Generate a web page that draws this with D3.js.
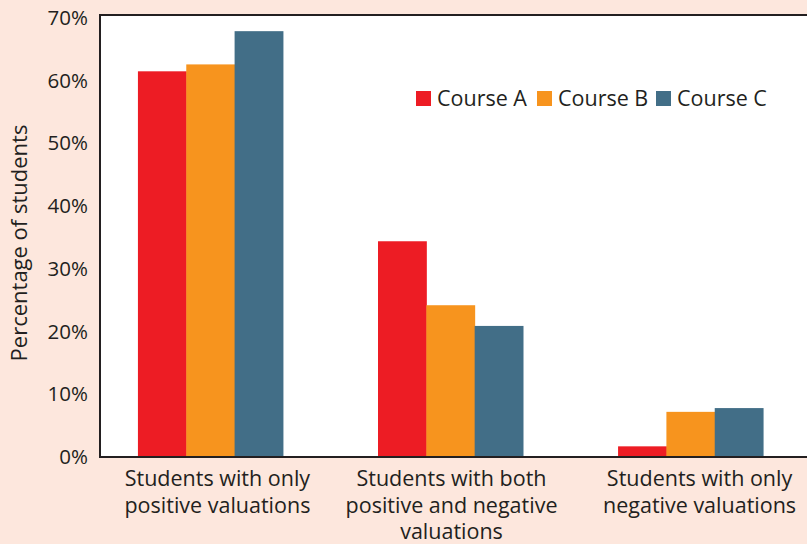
<!DOCTYPE html>
<html><head><meta charset="utf-8">
<script src="https://cdn.jsdelivr.net/npm/d3@7"></script>
<style>
html,body{margin:0;padding:0;background:#fde7dd;}
svg{display:block;font-family:"Open Sans",sans-serif;}
</style></head>
<body><svg id="c" width="807" height="544"></svg>
<script>
const categories = [
  ["Students with only","positive valuations"],
  ["Students with both","positive and negative","valuations"],
  ["Students with only","negative valuations"]
];
const seriesNames = ["Course A","Course B","Course C"];
const courseA = [61.5, 34.4, 1.7];
const courseB = [62.6, 24.2, 7.2];
const courseC = [67.9, 20.9, 7.8];
const yTicks = [0,10,20,30,40,50,60,70];
const colors = ["#ed1c24","#f7941e","#426e87"];

const series = [courseA, courseB, courseC];
const svg = d3.select("#c");
const pL = 100, pR = 807, pT = 15, pB = 457;
const labelShift = [7, 1, 9];

const y = d3.scaleLinear().domain([0,70]).range([pB, 18]);
const x0 = d3.scaleBand().domain(d3.range(categories.length)).range([100, 801]).paddingInner(0.396).paddingOuter(0.158);
svg.append("rect").attr("x",pL).attr("y",pT).attr("width",pR-pL).attr("height",pB-pT).attr("fill","#fff");

const x1 = d3.scaleBand().domain(d3.range(series.length)).range([0, x0.bandwidth()]);

const g = svg.append("g");
categories.forEach((c,i)=>{
  series.forEach((s,j)=>{
    g.append("rect")
      .attr("x", x0(i)+x1(j))
      .attr("y", y(s[i]))
      .attr("width", x1.bandwidth()+0.5)
      .attr("height", pB - y(s[i]))
      .attr("fill", colors[j]);
  });
});

svg.append("path").attr("d",`M${pR},${pT}H${pL}V${pB}H${pR}`)
  .attr("fill","none").attr("stroke","#231f20").attr("stroke-width",2);

const yAxis = d3.axisLeft(y).tickValues(yTicks).tickFormat(d=>d+"%").tickSize(0).tickPadding(12);
const ya = svg.append("g").attr("transform",`translate(${pL},0)`).call(yAxis);
ya.select(".domain").remove();
ya.selectAll("text").attr("font-size",20.5).attr("fill","#231f20").attr("font-family","Open Sans");

const xa = svg.append("g");
categories.forEach((lines,i)=>{
  const cx = x0(i)+x0.bandwidth()/2 + labelShift[i];
  const t = xa.append("text").attr("text-anchor","middle").attr("font-size",21.5).attr("fill","#231f20");
  lines.forEach((l,k)=>{
    t.append("tspan").attr("x",cx).attr("y",486+k*26.5).text(l);
  });
});

svg.append("text").attr("transform","translate(27,243) rotate(-90)")
  .attr("text-anchor","middle").attr("font-size",22).attr("fill","#231f20").text("Percentage of students");

const legX = [416, 537, 656];
seriesNames.forEach((n,j)=>{
  svg.append("rect").attr("x",legX[j]).attr("y",91).attr("width",15).attr("height",15).attr("fill",colors[j]);
  svg.append("text").attr("x",legX[j]+21).attr("y",106).attr("font-size",21.5).attr("fill","#231f20").text(n);
});
</script></body></html>
